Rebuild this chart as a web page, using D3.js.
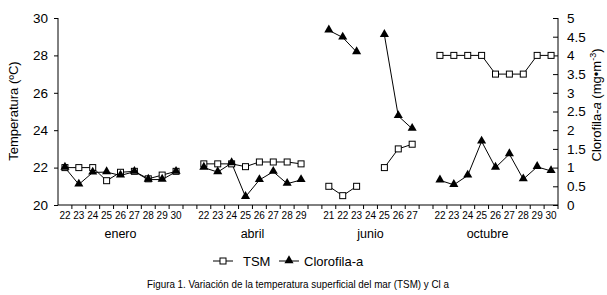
<!DOCTYPE html>
<html>
<head>
<meta charset="utf-8">
<script src="https://cdn.jsdelivr.net/npm/d3@7"></script>
<style>
  body { margin: 0; background: #fff; }
  svg { display: block; font-family: Arial, "Liberation Sans", sans-serif; }
</style>
</head>
<body>
<div id="chart"></div>
<script>
// datos
const meses = ["enero", "abril", "junio", "octubre"];
const eneroDias = [22, 23, 24, 25, 26, 27, 28, 29, 30];
const eneroTSM  = [22.0, 22.0, 22.0, 21.3, 21.75, 21.8, 21.4, 21.6, 21.8];
const eneroChl  = [1.0, 0.55, 0.87, 0.88, 0.79, 0.89, 0.68, 0.68, 0.89];
const abrilDias = [22, 23, 24, 25, 26, 27, 28, 29];
const abrilTSM  = [22.2, 22.2, 22.2, 22.05, 22.3, 22.3, 22.3, 22.2];
const abrilChl  = [1.0, 0.88, 1.12, 0.22, 0.67, 0.89, 0.57, 0.67];
const junioDias = [21, 22, 23, 24, 25, 26, 27];
const junioTSM  = [21.0, 20.5, 21.0, null, 22.0, 23.0, 23.25];
const junioChl  = [4.67, 4.48, 4.09, null, 4.55, 2.38, 2.04];
const octubreDias = [22, 23, 24, 25, 26, 27, 28, 29, 30];
const octubreTSM  = [28, 28, 28, 28, 27, 27, 27, 28, 28];
const octubreChl  = [0.66, 0.54, 0.79, 1.7, 1.0, 1.36, 0.69, 1.02, 0.91];
const tempTicks = [20, 22, 24, 26, 28, 30];
const chlTicks = [0, 0.5, 1, 1.5, 2, 2.5, 3, 3.5, 4, 4.5, 5];

const grupos = [
  { mes: "enero", dias: eneroDias, tsm: eneroTSM, chl: eneroChl },
  { mes: "abril", dias: abrilDias, tsm: abrilTSM, chl: abrilChl },
  { mes: "junio", dias: junioDias, tsm: junioTSM, chl: junioChl },
  { mes: "octubre", dias: octubreDias, tsm: octubreTSM, chl: octubreChl }
];

// categorias con un hueco entre meses
const cats = [];
grupos.forEach((g, gi) => {
  g.dias.forEach(d => cats.push(g.mes + "-" + d));
  if (gi < grupos.length - 1) cats.push("hueco-" + gi);
});

const W = 607, H = 295;
const mLeft = 58, mRight = 558, mTop = 18, mBottom = 205;

const svg = d3.select("#chart").append("svg")
  .attr("width", W).attr("height", H);

const x = d3.scaleBand().domain(cats).range([mLeft, mRight]).padding(0);
const yT = d3.scaleLinear().domain([20, 30]).range([mBottom, mTop]);
const yC = d3.scaleLinear().domain([0, 5]).range([mBottom, mTop]);

// eje x
const gx = svg.append("g").attr("transform", `translate(0,${mBottom})`);
gx.append("line").attr("x1", mLeft).attr("x2", mRight).attr("stroke", "#000");
const bordes = cats.map(c => x(c)).concat([mRight]);
gx.selectAll(".tk").data(bordes.slice(1)).enter().append("line")
  .attr("x1", d => d).attr("x2", d => d).attr("y1", 0).attr("y2", 4)
  .attr("stroke", "#000");
gx.selectAll(".lab").data(cats.filter(c => !c.startsWith("hueco"))).enter().append("text")
  .attr("x", d => x(d) + x.bandwidth() / 2)
  .attr("y", 14)
  .attr("text-anchor", "middle")
  .attr("font-size", "10px")
  .text(d => d.split("-")[1]);

// meses
grupos.forEach(g => {
  const a = x(g.mes + "-" + g.dias[0]);
  const b = x(g.mes + "-" + g.dias[g.dias.length - 1]) + x.bandwidth();
  svg.append("text")
    .attr("x", (a + b) / 2 + (g.mes === "octubre" ? -8 : 0))
    .attr("y", 238)
    .attr("text-anchor", "middle")
    .attr("font-size", "12.5px")
    .text(g.mes);
});

// eje izquierdo
svg.append("g").attr("transform", `translate(${mLeft},0)`)
  .call(d3.axisLeft(yT).tickValues(tempTicks).tickSize(4).tickPadding(6))
  .call(g => g.select(".domain").attr("d", `M0,${mTop}V${mBottom}`))
  .call(g => g.selectAll("text").attr("font-size", "13.5px").attr("font-family", "Arial, 'Liberation Sans', sans-serif"));

// eje derecho (marcas hacia dentro)
svg.append("g").attr("transform", `translate(${mRight},0)`)
  .call(d3.axisRight(yC).tickValues(chlTicks).tickSize(-5).tickPadding(9).tickFormat(d3.format("")))
  .call(g => g.select(".domain").attr("d", `M0,${mTop}V${mBottom}`))
  .call(g => g.selectAll("text").attr("font-size", "13.5px").attr("font-family", "Arial, 'Liberation Sans', sans-serif"));

// titulos de ejes
svg.append("text")
  .attr("transform", "translate(18,111) rotate(-90)")
  .attr("text-anchor", "middle")
  .attr("font-size", "13px")
  .text("Temperatura (ºC)");

const tR = svg.append("text")
  .attr("transform", "translate(601,105) rotate(-90)")
  .attr("text-anchor", "middle")
  .attr("font-size", "13px");
tR.append("tspan").text("Clorofila-");
tR.append("tspan").attr("font-style", "italic").text("a");
tR.append("tspan").text("  (mg•m");
tR.append("tspan").attr("font-size", "9px").attr("dy", -5).text("-3");
tR.append("tspan").attr("dy", 5).text(")");

// series
const cx = (g, i) => x(g.mes + "-" + g.dias[i]) + x.bandwidth() / 2;
const tri = d3.symbol().type(d3.symbolTriangle).size(36);

grupos.forEach(g => {
  const pts = g.dias.map((d, i) => ({ i, t: g.tsm[i], c: g.chl[i] }));

  const lT = d3.line().defined(d => d.t != null).x(d => cx(g, d.i)).y(d => yT(d.t));
  const lC = d3.line().defined(d => d.c != null).x(d => cx(g, d.i)).y(d => yC(d.c));

  svg.append("path").datum(pts).attr("d", lT).attr("fill", "none").attr("stroke", "#000").attr("stroke-width", 1);
  svg.append("path").datum(pts).attr("d", lC).attr("fill", "none").attr("stroke", "#000").attr("stroke-width", 1);

  svg.selectAll(null).data(pts.filter(d => d.t != null)).enter().append("rect")
    .attr("x", d => cx(g, d.i) - 3).attr("y", d => yT(d.t) - 3)
    .attr("width", 6).attr("height", 6)
    .attr("fill", "#fff").attr("stroke", "#000").attr("stroke-width", 1);

  svg.selectAll(null).data(pts.filter(d => d.c != null)).enter().append("path")
    .attr("d", tri)
    .attr("transform", d => `translate(${cx(g, d.i)},${yC(d.c) - 0.5})`)
    .attr("fill", "#000");
});

// leyenda
const lg = svg.append("g").attr("transform", "translate(0,261)");
lg.append("line").attr("x1", 213).attr("x2", 233).attr("stroke", "#000");
lg.append("rect").attr("x", 220).attr("y", -3).attr("width", 6).attr("height", 6)
  .attr("fill", "#fff").attr("stroke", "#000");
lg.append("text").attr("x", 243).attr("y", 5).attr("font-size", "13px").text("TSM");
lg.append("line").attr("x1", 279).attr("x2", 299).attr("stroke", "#000");
lg.append("path").attr("d", tri).attr("transform", "translate(289,-0.5)").attr("fill", "#000");
lg.append("text").attr("x", 304).attr("y", 5).attr("font-size", "13px").text("Clorofila-a");

// pie de figura
svg.append("text")
  .attr("x", 147).attr("y", 288)
  .attr("font-family", "'Liberation Sans Narrow', 'Arial Narrow', Arial, sans-serif")
  .attr("font-size", "10.5px")
  .attr("textLength", 302).attr("lengthAdjust", "spacingAndGlyphs")
  .text("Figura 1. Variación de la temperatura superficial del mar (TSM) y Cl a");
</script>
</body>
</html>
